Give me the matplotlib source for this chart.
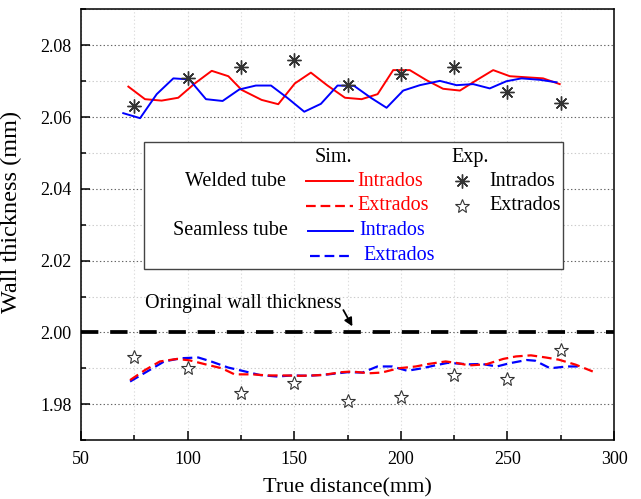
import matplotlib
matplotlib.use("Agg")
import matplotlib.pyplot as plt
from matplotlib.lines import Line2D
from matplotlib.patches import Rectangle
from matplotlib.ticker import MultipleLocator, FormatStrFormatter

plt.rcParams['font.family'] = ['Liberation Serif', 'DejaVu Serif']
plt.rcParams['lines.scale_dashes'] = False

# ---------------- data ----------------
welded_intra_x = [72.2, 80.0, 87.8, 95.6, 103.4, 111.3, 119.1, 125.3, 134.7, 142.5, 150.3, 157.8, 165.6,
                  173.8, 181.6, 189.1, 196.4, 204.2, 212.0, 219.8, 227.7, 235.5, 243.3, 251.1, 258.9, 266.7, 274.5]
welded_intra_y = [2.0685, 2.0650, 2.0646, 2.0654, 2.0694, 2.0729, 2.0714, 2.0676, 2.0648, 2.0636, 2.0694, 2.0724, 2.0688,
                  2.0654, 2.0650, 2.0664, 2.0731, 2.0731, 2.0703, 2.0679, 2.0674, 2.0703, 2.0731, 2.0714, 2.0711, 2.0708, 2.0692]

seamless_intra_x = [69.8, 77.7, 85.5, 93.3, 100.8, 108.6, 116.4, 124.2, 132.0, 139.1, 146.9, 154.7, 162.5, 170.3,
                    178.1, 185.9, 193.3, 201.1, 208.9, 218.3, 226.1, 233.9, 241.7, 249.5, 256.6, 265.2, 273.0]
seamless_intra_y = [2.0611, 2.0597, 2.0664, 2.0708, 2.0705, 2.0650, 2.0645, 2.0677, 2.0688, 2.0688, 2.0653, 2.0615, 2.0637, 2.0688,
                    2.0687, 2.0654, 2.0626, 2.0674, 2.0689, 2.0701, 2.0689, 2.0692, 2.0680, 2.0700, 2.0708, 2.0704, 2.0697]

welded_extra_x = [73, 80, 87, 95, 101, 109, 116, 122, 130, 138, 145, 153, 163, 172, 177, 185, 191, 199, 207, 213,
                  221, 226, 232, 240, 248, 254, 261, 268, 274, 282, 290]
welded_extra_y = [1.9867, 1.9895, 1.9919, 1.9926, 1.9922, 1.9910, 1.9900, 1.9883, 1.9883, 1.9880, 1.9880, 1.9879, 1.9881,
                  1.9889, 1.9891, 1.9886, 1.9888, 1.9900, 1.9905, 1.9912, 1.9919, 1.9915, 1.9908, 1.9911, 1.9926, 1.9933,
                  1.9936, 1.9930, 1.9924, 1.9910, 1.9891]

seamless_extra_x = [73, 81, 89, 97, 105, 111, 119, 127, 134, 142, 149, 157, 166, 175, 182, 189, 196, 203, 210, 216,
                    222, 232, 238, 245, 251, 259, 263, 270, 278, 284]
seamless_extra_y = [1.9863, 1.9891, 1.9919, 1.9928, 1.9930, 1.9919, 1.9902, 1.9891, 1.9881, 1.9877, 1.9880, 1.9879, 1.9883,
                    1.9889, 1.9888, 1.9905, 1.9905, 1.9893, 1.9900, 1.9908, 1.9915, 1.9911, 1.9912, 1.9905, 1.9914, 1.9923,
                    1.9921, 1.9900, 1.9905, 1.9905]

exp_x = [75, 100, 125, 150, 175, 200, 225, 250, 275]
exp_intra_y = [2.063, 2.071, 2.074, 2.076, 2.069, 2.072, 2.074, 2.067, 2.064]
exp_extra_y = [1.993, 1.990, 1.983, 1.986, 1.981, 1.982, 1.988, 1.987, 1.995]

original_thickness = 2.00
x_range = [50, 300]

# ---------------- figure ----------------
fig = plt.figure(figsize=(6.41, 4.99), dpi=100)
ax = fig.add_axes([0.1264, 0.1182, 0.8316, 0.8628])

ax.set_xlim(50, 300)
ax.set_ylim(1.97, 2.09)
ax.xaxis.set_major_locator(MultipleLocator(50))
ax.xaxis.set_minor_locator(MultipleLocator(25))
ax.yaxis.set_major_locator(MultipleLocator(0.02))
ax.yaxis.set_minor_locator(MultipleLocator(0.01))
ax.yaxis.set_major_formatter(FormatStrFormatter('%.2f'))

ax.grid(True, which='major', axis='y', linestyle=':', color='#666666', lw=0.8)
ax.grid(True, which='minor', axis='y', linestyle=':', color='#cccccc', lw=0.8)
ax.grid(True, which='both', axis='x', linestyle=':', color='#dddddd', lw=0.8)
ax.set_axisbelow(True)

ax.tick_params(which='both', direction='in', top=False, right=False, labelsize=13, width=1.1)
ax.tick_params(which='major', length=6.5)
ax.tick_params(which='minor', length=3.6)
ax.tick_params(axis='x', which='major', pad=8)
ax.tick_params(axis='y', which='major', pad=7)
for s in ax.spines.values():
    s.set_linewidth(1.1)

ax.set_xlabel('True distance(mm)', fontsize=16, labelpad=7)
ax.set_ylabel('Wall thickness (mm)', fontsize=17.5)
ax.yaxis.set_label_coords(-0.111, 0.53)

red = '#ff0000'
blue = '#0000ff'
dash_small = (0, (7, 3.5))

ax.plot(x_range, [original_thickness, original_thickness], color='black', lw=2.7,
        linestyle=(0, (12.5, 8.5)), zorder=3)

ax.plot(welded_intra_x, welded_intra_y, color=red, lw=1.4, zorder=4)
ax.plot(seamless_intra_x, seamless_intra_y, color=blue, lw=1.4, zorder=4)
ax.plot(seamless_extra_x, seamless_extra_y, color=blue, lw=1.6, linestyle=dash_small, zorder=4)
ax.plot(welded_extra_x, welded_extra_y, color=red, lw=1.6, linestyle=dash_small, zorder=4)

ax.plot(exp_x, exp_intra_y, linestyle='none', marker=(8, 2, 0), markersize=10,
        markeredgecolor='#333333', markeredgewidth=1.0, zorder=5)
ax.plot(exp_x, exp_extra_y, linestyle='none', marker='*', markersize=10,
        markerfacecolor='white', markeredgecolor='#333333', markeredgewidth=0.8, zorder=5)

# annotation
ax.text(80.2, 2.0080, 'Oringinal wall thickness', fontsize=14.5, ha='left', va='center', zorder=6)
ax.annotate('', xy=(177.9, 2.0010), xytext=(172.4, 2.0069),
            arrowprops=dict(arrowstyle='-|>', color='black', lw=1.3, mutation_scale=12), zorder=6)

# custom legend
T = ax.transAxes
ax.add_patch(Rectangle((0.118, 0.3965), 0.787, 0.295, transform=T, facecolor='white',
                       edgecolor='#444444', lw=1.0, zorder=7))
fs = 14.5
ax.text(0.473, 0.6557, 'Sim.', transform=T, fontsize=fs, ha='center', va='center', zorder=8)
ax.text(0.730, 0.6557, 'Exp.', transform=T, fontsize=fs, ha='center', va='center', zorder=8)
rows = [0.6016, 0.5443, 0.4855, 0.4281]
ax.text(0.385, rows[0], 'Welded tube', transform=T, fontsize=fs, ha='right', va='center', zorder=8)
ax.text(0.388, rows[2], 'Seamless tube', transform=T, fontsize=fs, ha='right', va='center', zorder=8)

ax.add_line(Line2D([0.422, 0.510], [rows[0]] * 2, transform=T, color=red, lw=1.4, zorder=8))
ax.add_line(Line2D([0.422, 0.510], [rows[1]] * 2, transform=T, color=red, lw=1.6, linestyle=dash_small, zorder=8))
ax.add_line(Line2D([0.426, 0.510], [rows[2]] * 2, transform=T, color=blue, lw=1.4, zorder=8))
ax.add_line(Line2D([0.430, 0.510], [rows[3]] * 2, transform=T, color=blue, lw=1.6, linestyle=dash_small, zorder=8))

ax.text(0.518, rows[0], 'Intrados', transform=T, fontsize=fs, color=red, ha='left', va='center', zorder=8)
ax.text(0.518, rows[1], 'Extrados', transform=T, fontsize=fs, color=red, ha='left', va='center', zorder=8)
ax.text(0.523, rows[2], 'Intrados', transform=T, fontsize=fs, color=blue, ha='left', va='center', zorder=8)
ax.text(0.529, rows[3], 'Extrados', transform=T, fontsize=fs, color=blue, ha='left', va='center', zorder=8)

ax.add_line(Line2D([0.714], [rows[0]], transform=T, linestyle='none', marker=(8, 2, 0), markersize=10,
                   markeredgecolor='#333333', markeredgewidth=1.0, zorder=8))
ax.add_line(Line2D([0.714], [rows[1]], transform=T, linestyle='none', marker='*', markersize=10,
                   markerfacecolor='white', markeredgecolor='#333333', markeredgewidth=0.8, zorder=8))
ax.text(0.766, rows[0], 'Intrados', transform=T, fontsize=fs, ha='left', va='center', zorder=8)
ax.text(0.766, rows[1], 'Extrados', transform=T, fontsize=fs, ha='left', va='center', zorder=8)

fig.savefig('out.png', dpi=100)
